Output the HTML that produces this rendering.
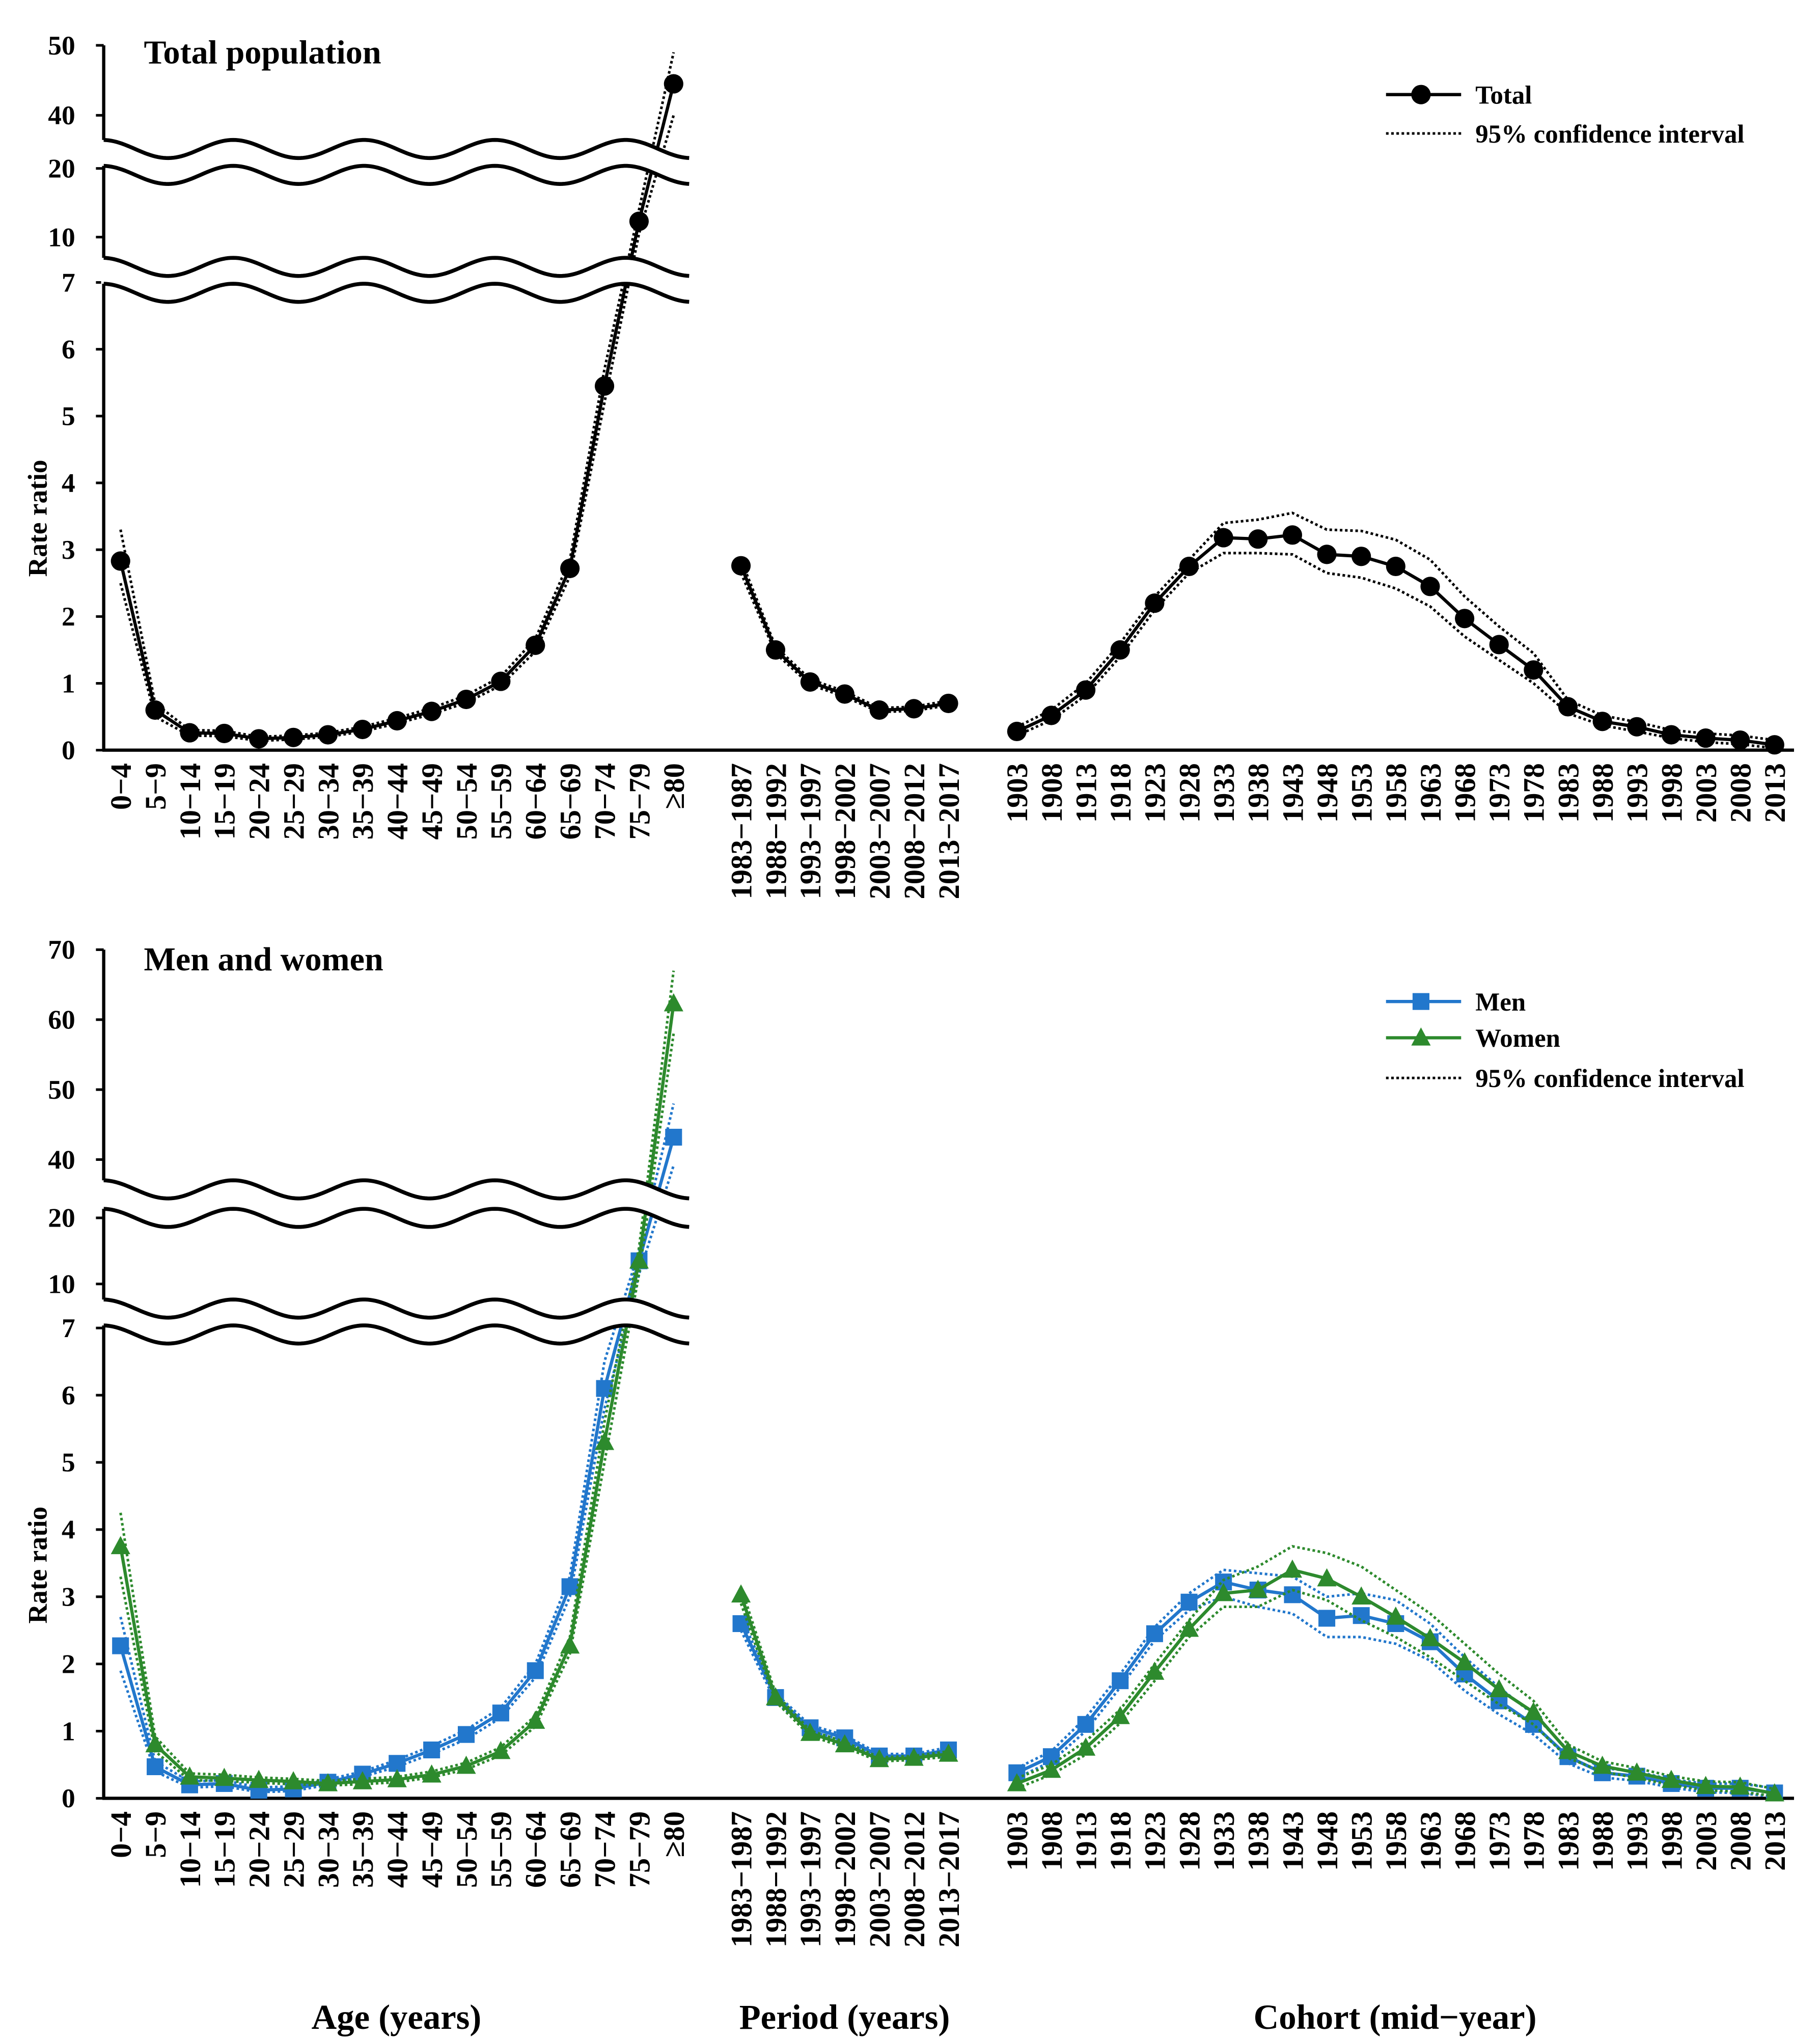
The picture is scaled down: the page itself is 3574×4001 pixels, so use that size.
<!DOCTYPE html>
<html><head><meta charset="utf-8"><style>
html,body{margin:0;padding:0;background:#fff;}
svg{display:block;}
text{font-family:"Liberation Serif",serif;font-weight:bold;fill:#000;}
</style></head><body>
<svg id="chart" width="3574" height="4001" viewBox="0 0 1405 1573" xmlns="http://www.w3.org/2000/svg">
<g id="topPanel"></g>
<g id="botPanel"></g>
<text x="111" y="49" font-size="26">Total population</text>
<text x="111" y="749" font-size="26">Men and women</text>
<text transform="translate(36,400) rotate(-90)" text-anchor="middle" font-size="21">Rate ratio</text>
<text transform="translate(36,1208) rotate(-90)" text-anchor="middle" font-size="21">Rate ratio</text>
<text x="306" y="1566" text-anchor="middle" font-size="27">Age (years)</text>
<text x="652" y="1566" text-anchor="middle" font-size="27">Period (years)</text>
<text x="1077" y="1566" text-anchor="middle" font-size="27">Cohort (mid−year)</text>
</svg>
<script>
const ageCats=["0−4","5−9","10−14","15−19","20−24","25−29","30−34","35−39","40−44","45−49","50−54","55−59","60−64","65−69","70−74","75−79","≥80"];
const periodCats=["1983−1987","1988−1992","1993−1997","1998−2002","2003−2007","2008−2012","2013−2017"];
const cohortCats=["1903","1908","1913","1918","1923","1928","1933","1938","1943","1948","1953","1958","1963","1968","1973","1978","1983","1988","1993","1998","2003","2008","2013"];
const topTicks=[0,1,2,3,4,5,6,7,10,20,40,50];
const botTicks=[0,1,2,3,4,5,6,7,10,20,40,50,60,70];
const totAge=[2.83,0.6,0.26,0.25,0.17,0.19,0.23,0.31,0.44,0.58,0.76,1.03,1.57,2.72,5.45,12.3,44.5];
const totAgeU=[3.3,0.7,0.3,0.29,0.2,0.22,0.26,0.35,0.48,0.63,0.82,1.1,1.67,2.85,5.7,14,49];
const totAgeL=[2.5,0.5,0.22,0.21,0.14,0.16,0.2,0.28,0.4,0.54,0.71,0.97,1.48,2.6,5.2,10.5,40];
const totPer=[2.76,1.5,1.02,0.84,0.6,0.62,0.7];
const totPerU=[2.85,1.55,1.06,0.88,0.63,0.65,0.74];
const totPerL=[2.65,1.45,0.98,0.8,0.57,0.59,0.67];
const totCoh=[0.28,0.52,0.9,1.5,2.2,2.75,3.18,3.16,3.22,2.93,2.9,2.75,2.45,1.97,1.58,1.2,0.65,0.43,0.35,0.23,0.18,0.15,0.08];
const totCohU=[0.35,0.6,1.0,1.6,2.3,2.85,3.4,3.45,3.55,3.3,3.28,3.15,2.85,2.3,1.85,1.45,0.75,0.52,0.42,0.3,0.25,0.22,0.15];
const totCohL=[0.22,0.45,0.82,1.4,2.1,2.65,2.95,2.95,2.93,2.65,2.58,2.42,2.15,1.7,1.35,1.0,0.55,0.37,0.28,0.18,0.12,0.09,0.03];
const menAge=[2.27,0.47,0.2,0.22,0.12,0.14,0.24,0.36,0.52,0.72,0.95,1.27,1.9,3.15,6.1,13.5,43.2];
const menAgeU=[2.7,0.55,0.25,0.27,0.16,0.18,0.28,0.4,0.57,0.78,1.02,1.35,2.0,3.3,6.5,15,48];
const menAgeL=[1.9,0.4,0.16,0.18,0.09,0.11,0.2,0.32,0.47,0.66,0.88,1.2,1.8,3.0,5.8,11.5,38];
const womAge=[3.75,0.8,0.32,0.3,0.27,0.25,0.22,0.25,0.28,0.35,0.48,0.7,1.15,2.27,5.3,13.5,62.3];
const womAgeU=[4.25,0.92,0.37,0.35,0.31,0.29,0.26,0.29,0.32,0.4,0.53,0.76,1.23,2.4,5.6,15.5,67];
const womAgeL=[3.3,0.7,0.27,0.26,0.23,0.21,0.19,0.21,0.24,0.31,0.43,0.64,1.07,2.15,5.0,11.5,58];
const menPer=[2.6,1.5,1.05,0.9,0.63,0.63,0.72];
const menPerU=[2.7,1.56,1.09,0.94,0.66,0.66,0.76];
const menPerL=[2.5,1.44,1.0,0.86,0.6,0.6,0.68];
const womPer=[3.03,1.5,0.97,0.8,0.58,0.6,0.66];
const womPerU=[3.15,1.56,1.01,0.84,0.61,0.63,0.7];
const womPerL=[2.9,1.44,0.93,0.76,0.55,0.57,0.62];
const menCoh=[0.38,0.62,1.1,1.75,2.45,2.92,3.22,3.1,3.03,2.68,2.72,2.6,2.33,1.85,1.45,1.1,0.62,0.38,0.33,0.22,0.15,0.15,0.08];
const menCohU=[0.45,0.7,1.2,1.85,2.55,3.05,3.4,3.35,3.3,3.0,3.05,2.95,2.6,2.1,1.65,1.25,0.72,0.45,0.4,0.28,0.22,0.22,0.15];
const menCohL=[0.3,0.55,1.0,1.65,2.35,2.8,3.0,2.85,2.75,2.4,2.4,2.3,2.05,1.6,1.25,0.95,0.52,0.31,0.26,0.16,0.09,0.08,0.02];
const womCoh=[0.22,0.42,0.75,1.22,1.88,2.52,3.05,3.1,3.4,3.27,3.0,2.7,2.38,2.02,1.62,1.28,0.7,0.48,0.38,0.27,0.18,0.17,0.07];
const womCohU=[0.3,0.5,0.85,1.32,2.0,2.65,3.25,3.45,3.75,3.65,3.45,3.1,2.75,2.3,1.85,1.45,0.8,0.55,0.45,0.33,0.25,0.24,0.14];
const womCohL=[0.15,0.35,0.65,1.12,1.75,2.4,2.85,2.85,3.1,2.95,2.65,2.4,2.1,1.75,1.4,1.1,0.6,0.4,0.3,0.2,0.12,0.1,0.03];

const NS="http://www.w3.org/2000/svg";
function mk(parent,tag,attrs){const e=document.createElementNS(NS,tag);for(const k in attrs)e.setAttribute(k,attrs[k]);parent.appendChild(e);return e;}
const xAge=i=>93+i*(520-93)/16;
const xPer=i=>572+i*26.7;
const xCoh=i=>785+i*(1370-785)/22;

function makeY(base,unit,y10,y20,u10,y40,u40){
  return v=>{
    if(v<=7) return base-v*unit;
    if(v<=10) return (base-7*unit)+((y10)-(base-7*unit))*(v-7)/3;
    if(v<=20) return y10-(v-10)*u10;
    if(v<=40) return y20+(y40-y20)*(v-20)/20;
    return y40-(v-40)*u40;
  };
}
const yTop=makeY(579,(579-218)/7,183,130,5.3,89,5.4);
const yBot=makeY(1388,(1388-1025)/7,991,940,5.1,895,5.4);

function wave(y0,x0,x1){let d="";for(let x=x0;x<=x1;x+=2){const y=y0-7*Math.cos(2*Math.PI*(x-79)/101);d+=(x===x0?"M":"L")+x+","+y.toFixed(2);}return d;}
function band(g,c1,c2){
  let d="";for(let x=78;x<=534;x+=2){d+=(x===78?"M":"L")+x+","+(c1-7*Math.cos(2*Math.PI*(x-79)/101)).toFixed(2);}
  for(let x=534;x>=78;x-=2){d+="L"+x+","+(c2-7*Math.cos(2*Math.PI*(x-79)/101)).toFixed(2);}
  const b=mk(g,"path",{d:d+"Z",fill:"#fff"});
  
  
  const w1=mk(g,"path",{d:wave(c1,80,533),fill:"none",stroke:"#000","stroke-width":3});
  
  
  const w2=mk(g,"path",{d:wave(c2,80,533),fill:"none",stroke:"#000","stroke-width":3});
  
  
}
function pts(vals,xf,yf){return vals.map((v,i)=>xf(i).toFixed(1)+","+yf(v).toFixed(1)).join(" ");}
function series(g,vals,U,L,xf,yf,color,marker,name){
  [U,L].forEach((arr,k)=>{
    const p=mk(g,"polyline",{points:pts(arr,xf,yf),fill:"none",stroke:color,"stroke-width":2,"stroke-dasharray":"2,2"});
    
    
  });
  const l=mk(g,"polyline",{points:pts(vals,xf,yf),fill:"none",stroke:color,"stroke-width":2.5});
  
  
  vals.forEach((v,i)=>{
    const x=xf(i),y=yf(v);let m;
    if(marker==="c") m=mk(g,"circle",{cx:x,cy:y,r:7.5,fill:color});
    else if(marker==="s") m=mk(g,"rect",{x:x-6.5,y:y-6.5,width:13,height:13,fill:color});
    else m=mk(g,"polygon",{points:`${x},${y-8} ${x+7.5},${y+6} ${x-7.5},${y+6}`,fill:color});
    
    
  });
}
function axes(g,yf,ticks,yTopEnd,base){
  const ax=mk(g,"line",{x1:80,y1:yTopEnd,x2:80,y2:base,stroke:"#000","stroke-width":2.5});
  
  
  const xa=mk(g,"line",{x1:79,y1:base,x2:1385,y2:base,stroke:"#000","stroke-width":2.5});
  
  
  ticks.forEach(t=>{
    const y=yf(t);
    const tk=mk(g,"line",{x1:74,y1:y,x2:80,y2:y,stroke:"#000","stroke-width":2});
    
    
    const tl=mk(g,"text",{x:58,y:y+7,"text-anchor":"end","font-size":21});
    tl.textContent=t;
    
    
  });
  const groups=[[ageCats,xAge],[periodCats,xPer],[cohortCats,xCoh]];
  groups.forEach(([cats,xf])=>cats.forEach((c,i)=>{
    const t=mk(g,"text",{transform:`translate(${xf(i)+8},${base+10}) rotate(-90)`,"text-anchor":"end","font-size":23});
    t.textContent=c;
    
    
  }));
}
function legendLine(g,y,color,marker,label){
  const l=mk(g,"line",{x1:1070,y1:y,x2:1128,y2:y,stroke:color,"stroke-width":marker==="d"?2:2.5,"stroke-dasharray":marker==="d"?"2,2":"none"});
  
  
  let m=null;
  if(marker==="c") m=mk(g,"circle",{cx:1097,cy:y,r:7.5,fill:color});
  else if(marker==="s") m=mk(g,"rect",{x:1090.5,y:y-6.5,width:13,height:13,fill:color});
  else if(marker==="t") m=mk(g,"polygon",{points:`1097,${y-8} 1104.5,${y+6} 1089.5,${y+6}`,fill:color});
  if(m){}
  const t=mk(g,"text",{x:1139,y:y+7,"font-size":20});
  t.textContent=label;
  
  
}

const topG=document.getElementById("topPanel");
axes(topG,yTop,topTicks,35,579);
series(topG,totAge,totAgeU,totAgeL,xAge,yTop,"#000","c","total-age");
series(topG,totPer,totPerU,totPerL,xPer,yTop,"#000","c","total-period");
series(topG,totCoh,totCohU,totCohL,xCoh,yTop,"#000","c","total-cohort");
band(topG,115,135);
band(topG,206,226);
legendLine(topG,73,"#000","c","Total");
legendLine(topG,103,"#000","d","95% confidence interval");

const BLUE="#2277cc",GREEN="#2d8a2d";
const botG=document.getElementById("botPanel");
axes(botG,yBot,botTicks,733,1388);
series(botG,menAge,menAgeU,menAgeL,xAge,yBot,BLUE,"s","men-age");
series(botG,womAge,womAgeU,womAgeL,xAge,yBot,GREEN,"t","women-age");
series(botG,menPer,menPerU,menPerL,xPer,yBot,BLUE,"s","men-period");
series(botG,womPer,womPerU,womPerL,xPer,yBot,GREEN,"t","women-period");
series(botG,menCoh,menCohU,menCohL,xCoh,yBot,BLUE,"s","men-cohort");
series(botG,womCoh,womCohU,womCohL,xCoh,yBot,GREEN,"t","women-cohort");
band(botG,918,940);
band(botG,1010,1030);
legendLine(botG,773,BLUE,"s","Men");
legendLine(botG,801,GREEN,"t","Women");
legendLine(botG,832,"#000","d","95% confidence interval");
</script>
</body></html>
